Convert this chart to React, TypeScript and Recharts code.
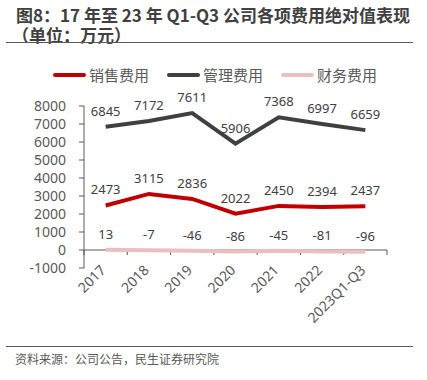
import React from 'react';
import { LineChart, Line, XAxis, YAxis, LabelList, ReferenceLine } from 'recharts';

const categories = ['2017', '2018', '2019', '2020', '2021', '2022', '2023Q1-Q3'];
const salesExpense = [2473, 3115, 2836, 2022, 2450, 2394, 2437];
const adminExpense = [6845, 7172, 7611, 5906, 7368, 6997, 6659];
const financeExpense = [13, -7, -46, -86, -45, -81, -96];
const yTicks = [-1000, 0, 1000, 2000, 3000, 4000, 5000, 6000, 7000, 8000];
const seriesNames = ['销售费用', '管理费用', '财务费用'];
const seriesKeys = ['sales', 'admin', 'finance'];
const seriesColors = ['#C00000', '#404040', '#EBBFC2'];
const titleLines = ['图8：17 年至 23 年 Q1-Q3 公司各项费用绝对值表现', '（单位：万元）'];
const sourceText = '资料来源：公司公告，民生证券研究院';

const data = categories.map((c, i) => ({
  idx: i,
  sales: salesExpense[i],
  admin: adminExpense[i],
  finance: financeExpense[i],
}));

const FONT = "'Noto Sans CJK SC', 'Noto Sans', sans-serif";
const NUM_FONT = "'Noto Sans', 'Open Sans', sans-serif";

const XTick = (props: any) => {
  const { x, y, payload } = props;
  return (
    <text
      x={x + 1}
      y={y}
      transform={`rotate(-45, ${x + 1}, ${y})`}
      textAnchor="end"
      fontSize={14}
      fontFamily={NUM_FONT}
      fill="#595959"
    >
      {categories[payload.value]}
    </text>
  );
};

const ZeroAxis = (props: any) => {
  const { x1, x2, y1 } = props;
  const n = categories.length;
  const step = (x2 - x1) / n;
  const ticks = [];
  for (let i = 0; i <= n; i++) {
    const tx = x1 + i * step;
    ticks.push(<line key={i} x1={tx} x2={tx} y1={y1} y2={y1 + 5} stroke="#595959" strokeWidth={1} />);
  }
  return (
    <g>
      <line x1={x1} x2={x2} y1={y1} y2={y1} stroke="#595959" strokeWidth={1} />
      {ticks}
    </g>
  );
};

export default function App() {
  return (
    <div style={{ position: 'absolute', left: 0, top: 0, width: 427, height: 380, background: '#fff', fontFamily: FONT }}>
      <div style={{ position: 'absolute', left: 16, top: 5, fontSize: 17, fontWeight: 'bold', color: '#404040', lineHeight: '20px', whiteSpace: 'nowrap' }}>
        <div>{titleLines[0]}</div>
        <div style={{ marginLeft: -4 }}>{titleLines[1]}</div>
      </div>
      <div style={{ position: 'absolute', left: 6, top: 42, width: 407, borderTop: '1.5px solid #595959' }} />
      <div style={{ position: 'absolute', left: 53, top: 65, height: 20, display: 'flex', alignItems: 'center', whiteSpace: 'nowrap' }}>
        {seriesNames.map((name, i) => (
          <div key={name} style={{ display: 'flex', alignItems: 'center', marginRight: 18 }}>
            <span style={{ display: 'inline-block', width: 33, height: 4, borderRadius: 2, background: seriesColors[i], marginRight: 3 }} />
            <span style={{ fontSize: 15, color: '#595959', lineHeight: '20px' }}>{name}</span>
          </div>
        ))}
      </div>
      <div style={{ position: 'absolute', left: 0, top: 0 }}>
        <LineChart width={427} height={380} data={data} margin={{ top: 106, right: 40, bottom: 52, left: 0 }}>
          <XAxis
            dataKey="idx"
            type="number"
            domain={[-0.5, 6.5]}
            ticks={[0, 1, 2, 3, 4, 5, 6]}
            interval={0}
            axisLine={false}
            tickLine={false}
            tickSize={0}
            tickMargin={3}
            height={60}
            tick={<XTick />}
          />
          <YAxis
            width={84}
            domain={[-1000, 8000]}
            ticks={yTicks}
            interval={0}
            axisLine={{ stroke: '#595959' }}
            tickLine={{ stroke: '#595959' }}
            tickSize={5}
            tickMargin={13}
            tick={{ fill: '#595959', fontSize: 14, fontFamily: NUM_FONT }}
          />
          <ReferenceLine y={0} shape={<ZeroAxis />} />
          {seriesKeys.map((k, i) => (
            <Line
              key={k}
              dataKey={k}
              name={seriesNames[i]}
              stroke={seriesColors[i]}
              strokeWidth={4}
              dot={false}
              isAnimationActive={false}
            >
              <LabelList dataKey={k} position="top" offset={11} fill="#404040" fontSize={13} fontFamily={NUM_FONT} />
            </Line>
          ))}
        </LineChart>
      </div>
      <div style={{ position: 'absolute', left: 6, top: 346, width: 407, borderTop: '1.5px solid #595959' }} />
      <div style={{ position: 'absolute', left: 15, top: 351, fontSize: 12, color: '#595959', lineHeight: '16px', whiteSpace: 'nowrap' }}>
        {sourceText}
      </div>
    </div>
  );
}
